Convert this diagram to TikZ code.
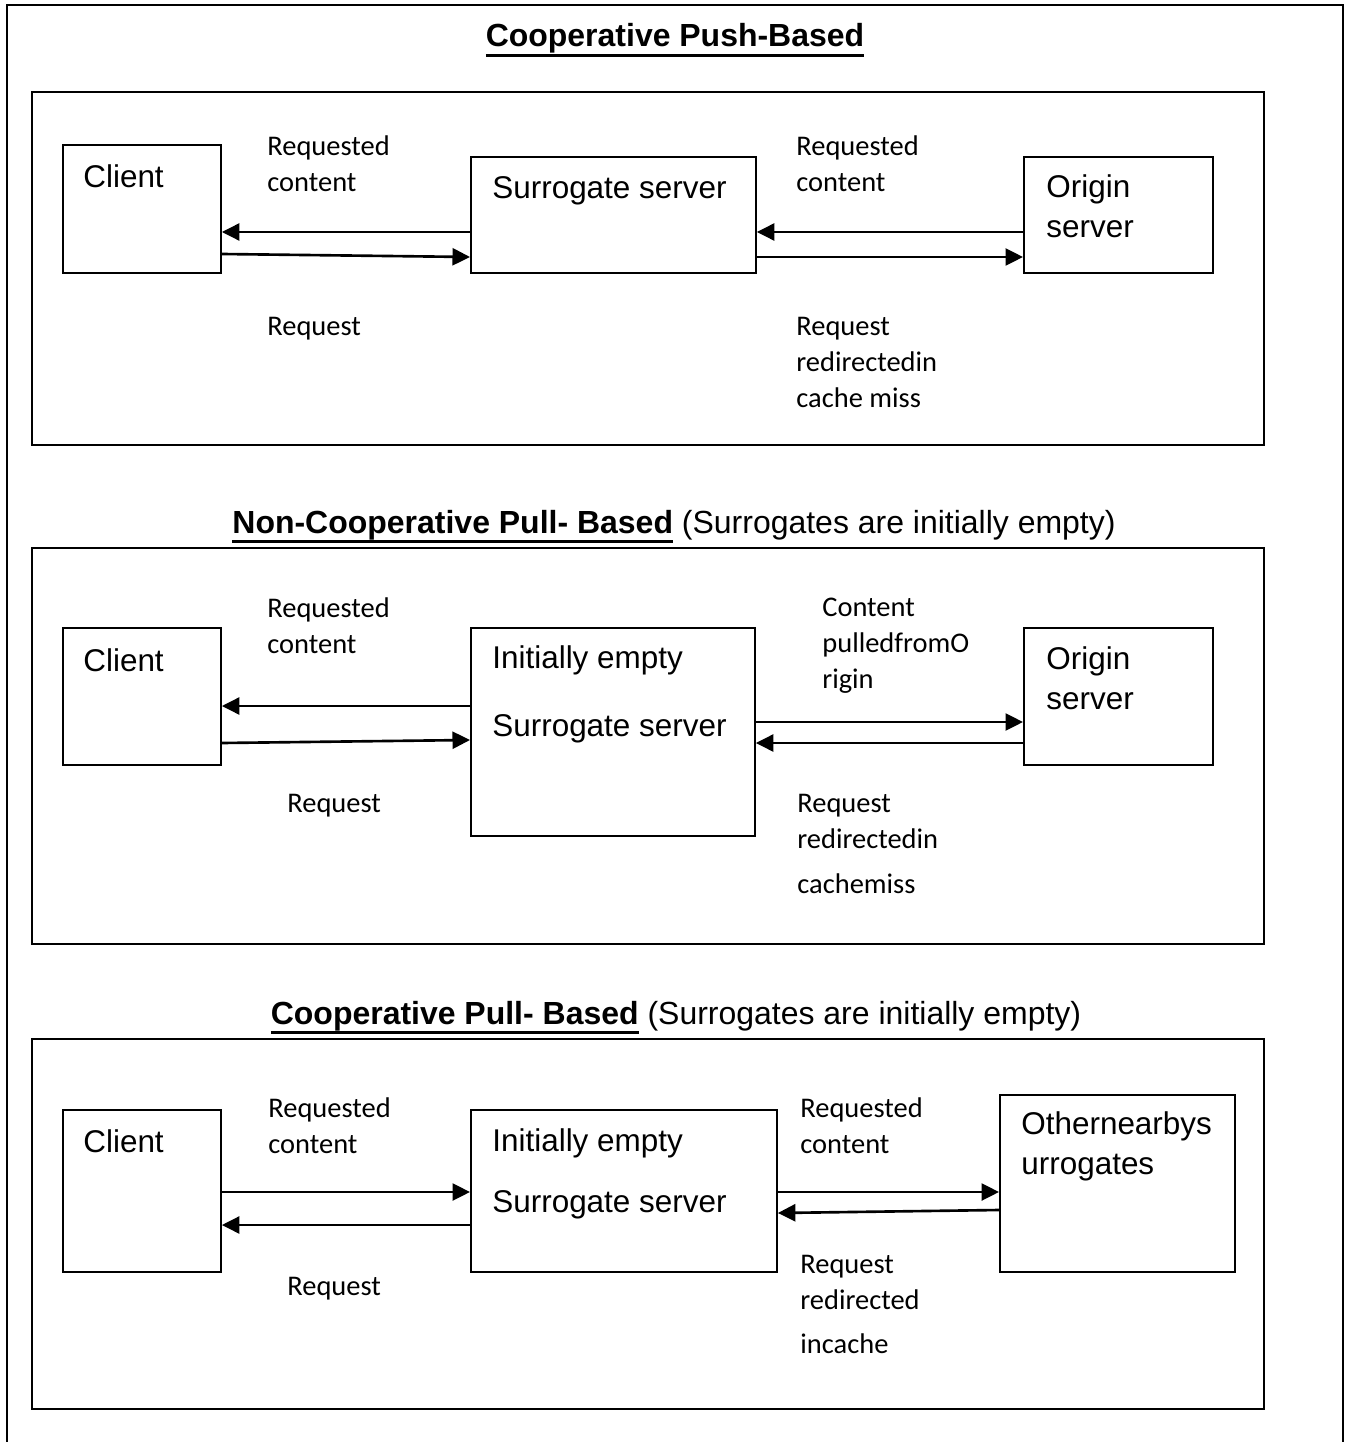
\documentclass[tikz,border=0pt]{standalone}
\usepackage{fontspec}
\setmainfont{Liberation Sans}
\newfontfamily\notefont{Carlito}
\usetikzlibrary{arrows.meta,positioning}
\newcommand\namefont{\fontsize{17.9}{22.7}\selectfont}
\newcommand\labelfont{\notefont\fontsize{16.2}{20.4}\selectfont}
\newcommand\headfont{\fontsize{18.2}{22}\selectfont}
\newcommand\titleline[1]{\setbox0\hbox{#1}\rlap{\rule[-5.6pt]{\wd0}{1.8pt}}\box0\relax}
\tikzstyle{box} = [draw,line width=1.1pt,rectangle,inner sep=0,anchor=north west]
\tikzstyle{panel} = [draw,line width=1.1pt]
\tikzstyle{boxtext} = [font=\namefont,align=left,anchor=north west,inner sep=0,execute at begin node=\strut]
\tikzstyle{arrowtext} = [font=\labelfont,align=left,anchor=north west,inner sep=0,execute at begin node=\strut]
\tikzstyle{heading} = [font=\headfont,anchor=base,inner sep=0]
\tikzstyle{flow} = [-{Triangle[length=0.35cm,width=0.34cm]},line width=1.5pt]
\begin{document}
\begin{tikzpicture}[x=0.02cm,y=-0.02cm]
  \useasboundingbox (0,0) rectangle (1346,1442);
  \draw[panel] (7,1442) -- (7,5) -- (1343,5) -- (1343,1442);
  % cooperative push-based
  \node[heading] (t1) at (675,47) {\titleline{\bfseries Cooperative Push-Based}};
  \draw[panel] (32,92) rectangle (1264,445);
  \node[box,minimum width=3.16cm,minimum height=2.56cm] (c1) at (62,144) {};
  \node[box,minimum width=5.7cm,minimum height=2.32cm] (s1) at (470,156) {};
  \node[box,minimum width=3.78cm,minimum height=2.32cm] (o1) at (1023,156) {};
  \node[boxtext] (c1l) at (83,159) {Client};
  \node[boxtext] (s1l) at (492,170) {Surrogate server};
  \node[boxtext] (o1l) at (1046,169) {\strut Origin\\server};
  \draw[flow] (s1.west |- 0,232) -- (c1.east |- 0,232);
  \draw[flow] (c1.east |- 0,254) -- (s1.west |- 0,257);
  \draw[flow] (o1.west |- 0,232) -- (s1.east |- 0,232);
  \draw[flow] (s1.east |- 0,257) -- (o1.west |- 0,257);
  \node[arrowtext] (rc1) at (267,130) {\strut Requested\\content};
  \node[arrowtext] (rq1) at (267,310) {Request};
  \node[arrowtext] (rc1b) at (796,130) {\strut Requested\\content};
  \node[arrowtext] (rr1) at (796,310) {\strut Request\\redirectedin\\cache miss};
  % non-cooperative pull-based
  \node[heading] (t2) at (674,533) {\titleline{\bfseries Non-Cooperative Pull- Based} (Surrogates are initially empty)};
  \draw[panel] (32,548) rectangle (1264,944);
  \node[box,minimum width=3.16cm,minimum height=2.74cm] (c2) at (62,627) {};
  \node[box,minimum width=5.68cm,minimum height=4.16cm] (s2) at (470,627) {};
  \node[box,minimum width=3.78cm,minimum height=2.74cm] (o2) at (1023,627) {};
  \node[boxtext] (c2l) at (83,643) {Client};
  \node[boxtext] (s2l) at (492,640) {\strut Initially empty\\[0.56cm]Surrogate server};
  \node[boxtext] (o2l) at (1046,641) {\strut Origin\\server};
  \draw[flow] (s2.west |- 0,706) -- (c2.east |- 0,706);
  \draw[flow] (c2.east |- 0,743) -- (s2.west |- 0,740);
  \draw[flow] (s2.east |- 0,722) -- (o2.west |- 0,722);
  \draw[flow] (o2.west |- 0,743) -- (s2.east |- 0,743);
  \node[arrowtext] (rc2) at (267,592) {\strut Requested\\content};
  \node[arrowtext] (rq2) at (287,787) {Request};
  \node[arrowtext] (cp2) at (822,591) {\strut Content\\pulledfromO\\rigin};
  \node[arrowtext] (rr2) at (797,787) {\strut Request\\redirectedin\\[0.18cm]cachemiss};
  % cooperative pull-based
  \node[heading] (t3) at (676,1024) {\titleline{\bfseries Cooperative Pull- Based} (Surrogates are initially empty)};
  \draw[panel] (32,1039) rectangle (1264,1409);
  \node[box,minimum width=3.16cm,minimum height=3.24cm] (c3) at (62,1109) {};
  \node[box,minimum width=6.12cm,minimum height=3.24cm] (s3) at (470,1109) {};
  \node[box,minimum width=4.7cm,minimum height=3.54cm] (o3) at (999,1094) {};
  \node[boxtext] (c3l) at (83,1124) {Client};
  \node[boxtext] (s3l) at (492,1123) {\strut Initially empty\\[0.42cm]Surrogate server};
  \node[boxtext] (o3l) at (1021,1106) {\strut Othernearbys\\urrogates};
  \draw[flow] (c3.east |- 0,1192) -- (s3.west |- 0,1192);
  \draw[flow] (s3.west |- 0,1225) -- (c3.east |- 0,1225);
  \draw[flow] (s3.east |- 0,1192) -- (o3.west |- 0,1192);
  \draw[flow] (o3.west |- 0,1210) -- (s3.east |- 0,1213);
  \node[arrowtext] (rc3) at (268,1092) {\strut Requested\\content};
  \node[arrowtext] (rq3) at (287,1270) {Request};
  \node[arrowtext] (rc3b) at (800,1092) {\strut Requested\\content};
  \node[arrowtext] (rr3) at (800,1248) {\strut Request\\redirected\\[0.16cm]incache};
\end{tikzpicture}
\end{document}
